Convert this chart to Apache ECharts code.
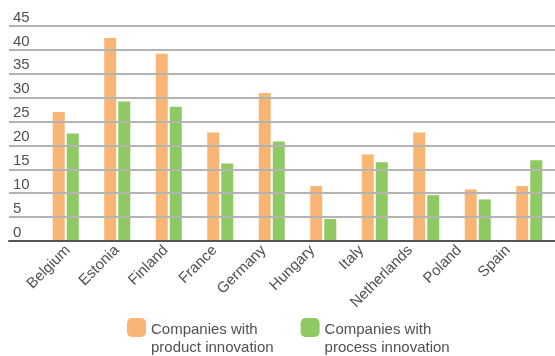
<!DOCTYPE html>
<html>
<head>
<meta charset="utf-8">
<script src="https://cdn.jsdelivr.net/npm/echarts@6/dist/echarts.min.js"></script>
<style>
html,body{margin:0;padding:0;background:#fff;}
#chart{width:555px;height:356px;}
</style>
</head>
<body>
<div id="chart"></div>
<script>
// 国家
var countries = ['Belgium','Estonia','Finland','France','Germany','Hungary','Italy','Netherlands','Poland','Spain'];
// 产品创新
var productInnovation = [27, 42.5, 39.2, 22.7, 31, 11.5, 18.1, 22.7, 10.8, 11.5];
// 流程创新
var processInnovation = [22.5, 29.2, 28.1, 16.2, 20.8, 4.6, 16.5, 9.6, 8.7, 16.9];
var yTicks = [0, 5, 10, 15, 20, 25, 30, 35, 40, 45];

var font = 'Liberation Sans';
var txtColor = '#505050';

function showChart(){
	var myChart = echarts.init(document.getElementById('chart'));
	var option = {
		animation: false,
		textStyle: {fontFamily: font},
		grid: [
			{left: 40, width: 518, top: 26, height: 215},   // 柱子
			{left: 9, right: 0, top: 26, height: 215},      // 网格线
			{left: 43.5, width: 489, top: 26, height: 215}  // 国家标签
		],
		legend: {
			left: 127, top: 302, padding: 0,
			itemWidth: 19, itemHeight: 19, itemGap: 27,
			icon: 'roundRect',
			data: [
				{name: 'Companies with\nproduct innovation'},
				{name: 'Companies with\nprocess innovation'}
			],
			formatter: function(name){
				var lines = name.split('\n');
				return '{gap| }\n{t|' + lines[0] + '}\n{t|' + lines[1] + '}';
			},
			textStyle: {
				fontFamily: font, fontSize: 15, color: txtColor,
				rich: {
					gap: {lineHeight: 23, fontSize: 15},
					t: {lineHeight: 18, fontSize: 15, color: txtColor, fontFamily: font}
				}
			}
		},
		xAxis: [
			{
				type: 'category', gridIndex: 0, data: countries,
				axisLine: {show: false}, axisTick: {show: false}, axisLabel: {show: false}
			},
			{
				type: 'value', gridIndex: 1, min: 0, max: 1, z: 5,
				axisLine: {show: true, lineStyle: {color: '#555', width: 2}},
				axisTick: {show: false}, axisLabel: {show: false}, splitLine: {show: false}
			},
			{
				type: 'category', gridIndex: 2, data: countries,
				axisLine: {show: false}, axisTick: {show: false},
				axisLabel: {rotate: 45, fontSize: 15, color: txtColor, margin: 7, fontFamily: font, interval: 0}
			}
		],
		yAxis: [
			{
				type: 'value', gridIndex: 0, min: 0, max: 45, interval: 5,
				axisLine: {show: false}, axisTick: {show: false},
				axisLabel: {show: false}, splitLine: {show: false}
			},
			{
				type: 'value', gridIndex: 1, min: yTicks[0], max: yTicks[yTicks.length - 1], interval: 5, z: 5,
				axisLine: {show: false}, axisTick: {show: false},
				axisLabel: {inside: true, margin: 4, verticalAlign: 'bottom', padding: [0, 0, 1, 0], fontSize: 15, color: txtColor, fontFamily: font},
				splitLine: {show: true, lineStyle: {color: '#b4b4b4', width: 2}}
			},
			{
				type: 'value', gridIndex: 2, min: 0, max: 45, show: false
			}
		],
		series: [
			{
				name: 'Companies with\nproduct innovation', type: 'bar',
				xAxisIndex: 0, yAxisIndex: 0,
				data: productInnovation, barWidth: 12, barGap: '17%',
				itemStyle: {color: '#f9b574'}
			},
			{
				name: 'Companies with\nprocess innovation', type: 'bar',
				xAxisIndex: 0, yAxisIndex: 0,
				data: processInnovation, barWidth: 12,
				itemStyle: {color: '#8fc964'}
			}
		]
	};
	myChart.setOption(option);
}
showChart();
</script>
</body>
</html>
